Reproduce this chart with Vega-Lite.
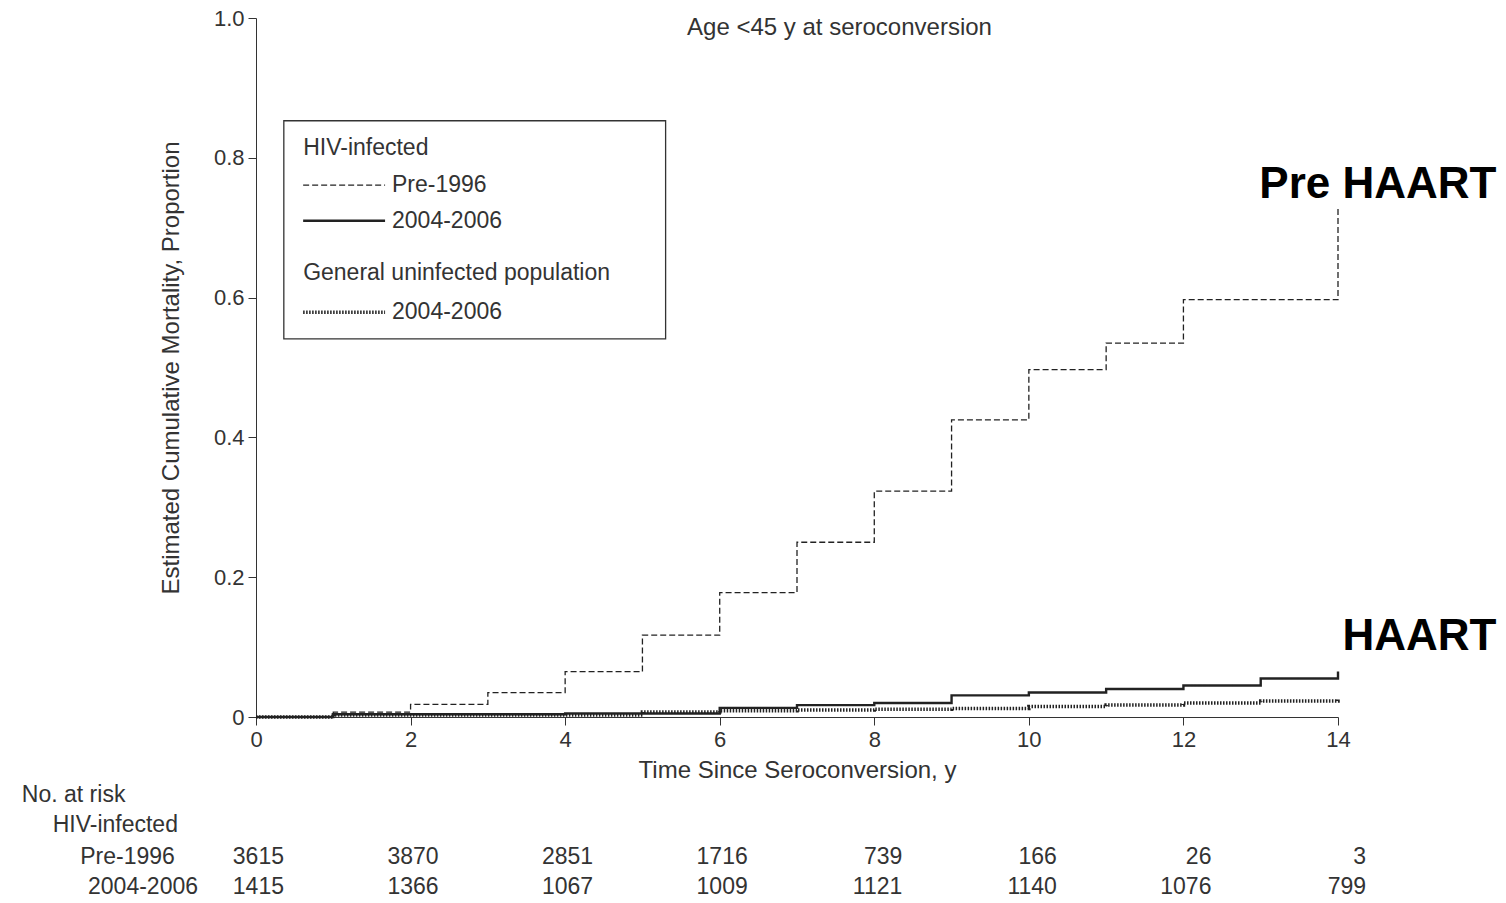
{
"$schema":"https://vega.github.io/schema/vega-lite/v6.json",
"width":1082,"height":699,
"autosize":{"type":"none"},
"padding":{"left":256,"top":18,"right":168,"bottom":186},
"background":"white",
"config":{"view":{"stroke":null},"font":"Liberation Sans",
 "axis":{"labelFont":"Liberation Sans","titleFont":"Liberation Sans","labelColor":"#333","titleColor":"#333","domainColor":"#333","tickColor":"#333","labelFontSize":22,"titleFontSize":24,"titleFontWeight":"normal","grid":false,"tickSize":8,"labelPadding":4,"labelFlush":false}},
"layer":[
{"data":{"values":[
{"s":"Pre-1996","t":0,"v":0,"o":0},{"s":"Pre-1996","t":1,"v":0.007,"o":1},{"s":"Pre-1996","t":2,"v":0.018,"o":2},{"s":"Pre-1996","t":3,"v":0.035,"o":3},{"s":"Pre-1996","t":4,"v":0.065,"o":4},{"s":"Pre-1996","t":5,"v":0.117,"o":5},{"s":"Pre-1996","t":6,"v":0.178,"o":6},{"s":"Pre-1996","t":7,"v":0.25,"o":7},{"s":"Pre-1996","t":8,"v":0.323,"o":8},{"s":"Pre-1996","t":9,"v":0.425,"o":9},{"s":"Pre-1996","t":10,"v":0.497,"o":10},{"s":"Pre-1996","t":11,"v":0.535,"o":11},{"s":"Pre-1996","t":12,"v":0.597,"o":12},{"s":"Pre-1996","t":14,"v":0.597,"o":13},{"s":"Pre-1996","t":14,"v":0.73,"o":14},
{"s":"HIV 2004-2006","t":0,"v":0,"o":0},{"s":"HIV 2004-2006","t":1,"v":0.004,"o":1},{"s":"HIV 2004-2006","t":4,"v":0.005,"o":2},{"s":"HIV 2004-2006","t":6,"v":0.013,"o":3},{"s":"HIV 2004-2006","t":7,"v":0.017,"o":4},{"s":"HIV 2004-2006","t":8,"v":0.02,"o":5},{"s":"HIV 2004-2006","t":9,"v":0.031,"o":6},{"s":"HIV 2004-2006","t":10,"v":0.035,"o":7},{"s":"HIV 2004-2006","t":11,"v":0.04,"o":8},{"s":"HIV 2004-2006","t":12,"v":0.045,"o":9},{"s":"HIV 2004-2006","t":13,"v":0.055,"o":10},{"s":"HIV 2004-2006","t":14,"v":0.055,"o":11},{"s":"HIV 2004-2006","t":14,"v":0.065,"o":12},
{"s":"General 2004-2006","t":0,"v":0,"o":0},{"s":"General 2004-2006","t":1,"v":0.003,"o":1},{"s":"General 2004-2006","t":5,"v":0.007,"o":2},{"s":"General 2004-2006","t":6,"v":0.009,"o":3},{"s":"General 2004-2006","t":7,"v":0.01,"o":4},{"s":"General 2004-2006","t":8,"v":0.011,"o":5},{"s":"General 2004-2006","t":9,"v":0.012,"o":6},{"s":"General 2004-2006","t":10,"v":0.015,"o":7},{"s":"General 2004-2006","t":11,"v":0.017,"o":8},{"s":"General 2004-2006","t":12,"v":0.02,"o":9},{"s":"General 2004-2006","t":13,"v":0.023,"o":10},{"s":"General 2004-2006","t":14,"v":0.025,"o":11},
{"s":"Pre-1996","g":"L1","t":0.61,"v":0.761,"o":0},{"s":"Pre-1996","g":"L1","t":1.67,"v":0.761,"o":1},
{"s":"HIV 2004-2006","g":"L2","t":0.61,"v":0.71,"o":0},{"s":"HIV 2004-2006","g":"L2","t":1.67,"v":0.71,"o":1},
{"s":"General 2004-2006","g":"L3","t":0.61,"v":0.579,"o":0},{"s":"General 2004-2006","g":"L3","t":1.67,"v":0.579,"o":1}
]},
"mark":{"type":"line","interpolate":"step-after","color":"#222","clip":false},
"encoding":{
"x":{"field":"t","type":"quantitative","scale":{"domain":[0,14],"nice":false},"axis":{"values":[0,2,4,6,8,10,12,14],"format":"d","title":"Time Since Seroconversion, y","titlePadding":8}},
"y":{"field":"v","type":"quantitative","scale":{"domain":[0,1],"nice":false},"axis":{"values":[0,0.2,0.4,0.6,0.8,1],"labelExpr":"datum.value==0?'0':format(datum.value,'.1f')","title":"Estimated Cumulative Mortality, Proportion","titlePadding":30}},
"detail":[{"field":"s"},{"field":"g"}],
"order":{"field":"o"},
"strokeDash":{"field":"s","scale":{"domain":["Pre-1996","HIV 2004-2006","General 2004-2006"],"range":[[6,3],[1,0],[1.5,1.5]]},"legend":null},
"strokeWidth":{"field":"s","scale":{"domain":["Pre-1996","HIV 2004-2006","General 2004-2006"],"range":[1.3,3.5,1.2]},"legend":null}
}},
{"data":{"values":[{"x1":0.36,"x2":5.3,"y1":0.853,"y2":0.541}]},
"mark":{"type":"rect","fill":null,"stroke":"#333","strokeWidth":1.3},
"encoding":{"x":{"field":"x1","type":"quantitative"},"x2":{"field":"x2"},"y":{"field":"y1","type":"quantitative"},"y2":{"field":"y2"}}},
{"data":{"values":[
{"x":0.61,"y":0.814,"txt":"HIV-infected"},{"x":1.76,"y":0.761,"txt":"Pre-1996"},{"x":1.76,"y":0.71,"txt":"2004-2006"},{"x":0.61,"y":0.635,"txt":"General uninfected population"},{"x":1.76,"y":0.579,"txt":"2004-2006"}]},
"mark":{"type":"text","align":"left","baseline":"middle","fontSize":23,"color":"#333","font":"Liberation Sans"},
"encoding":{"x":{"field":"x","type":"quantitative"},"y":{"field":"y","type":"quantitative"},"text":{"field":"txt"}}},
{"data":{"values":[{"x":7.55,"y":0.985,"txt":"Age <45 y at seroconversion"}]},
"mark":{"type":"text","align":"center","baseline":"middle","fontSize":24,"color":"#333"},
"encoding":{"x":{"field":"x","type":"quantitative"},"y":{"field":"y","type":"quantitative"},"text":{"field":"txt"}}},
{"data":{"values":[{"x":16.05,"y":0.761,"txt":"Pre HAART"},{"x":16.05,"y":0.115,"txt":"HAART"}]},
"mark":{"type":"text","align":"right","baseline":"middle","fontSize":44,"fontWeight":"bold","color":"#000","font":"Liberation Sans"},
"encoding":{"x":{"field":"x","type":"quantitative"},"y":{"field":"y","type":"quantitative"},"text":{"field":"txt"}}},
{"data":{"values":[
{"x":-1.69,"y":-0.112,"txt":"No. at risk"},{"x":-1.01,"y":-0.155,"txt":"HIV-infected"},{"x":-1.05,"y":-0.2003,"txt":"Pre-1996"},{"x":-0.75,"y":-0.243,"txt":"2004-2006"}]},
"mark":{"type":"text","align":"right","baseline":"middle","fontSize":23,"color":"#333"},
"encoding":{"x":{"field":"x","type":"quantitative"},"y":{"field":"y","type":"quantitative"},"text":{"field":"txt"}}},
{"data":{"values":[
{"t":0,"y":-0.2003,"n":"3615"},{"t":2,"y":-0.2003,"n":"3870"},{"t":4,"y":-0.2003,"n":"2851"},{"t":6,"y":-0.2003,"n":"1716"},{"t":8,"y":-0.2003,"n":"739"},{"t":10,"y":-0.2003,"n":"166"},{"t":12,"y":-0.2003,"n":"26"},{"t":14,"y":-0.2003,"n":"3"},
{"t":0,"y":-0.243,"n":"1415"},{"t":2,"y":-0.243,"n":"1366"},{"t":4,"y":-0.243,"n":"1067"},{"t":6,"y":-0.243,"n":"1009"},{"t":8,"y":-0.243,"n":"1121"},{"t":10,"y":-0.243,"n":"1140"},{"t":12,"y":-0.243,"n":"1076"},{"t":14,"y":-0.243,"n":"799"}]},
"mark":{"type":"text","align":"right","baseline":"middle","fontSize":23,"color":"#333","dx":28},
"encoding":{"x":{"field":"t","type":"quantitative"},"y":{"field":"y","type":"quantitative"},"text":{"field":"n"}}}
]}
